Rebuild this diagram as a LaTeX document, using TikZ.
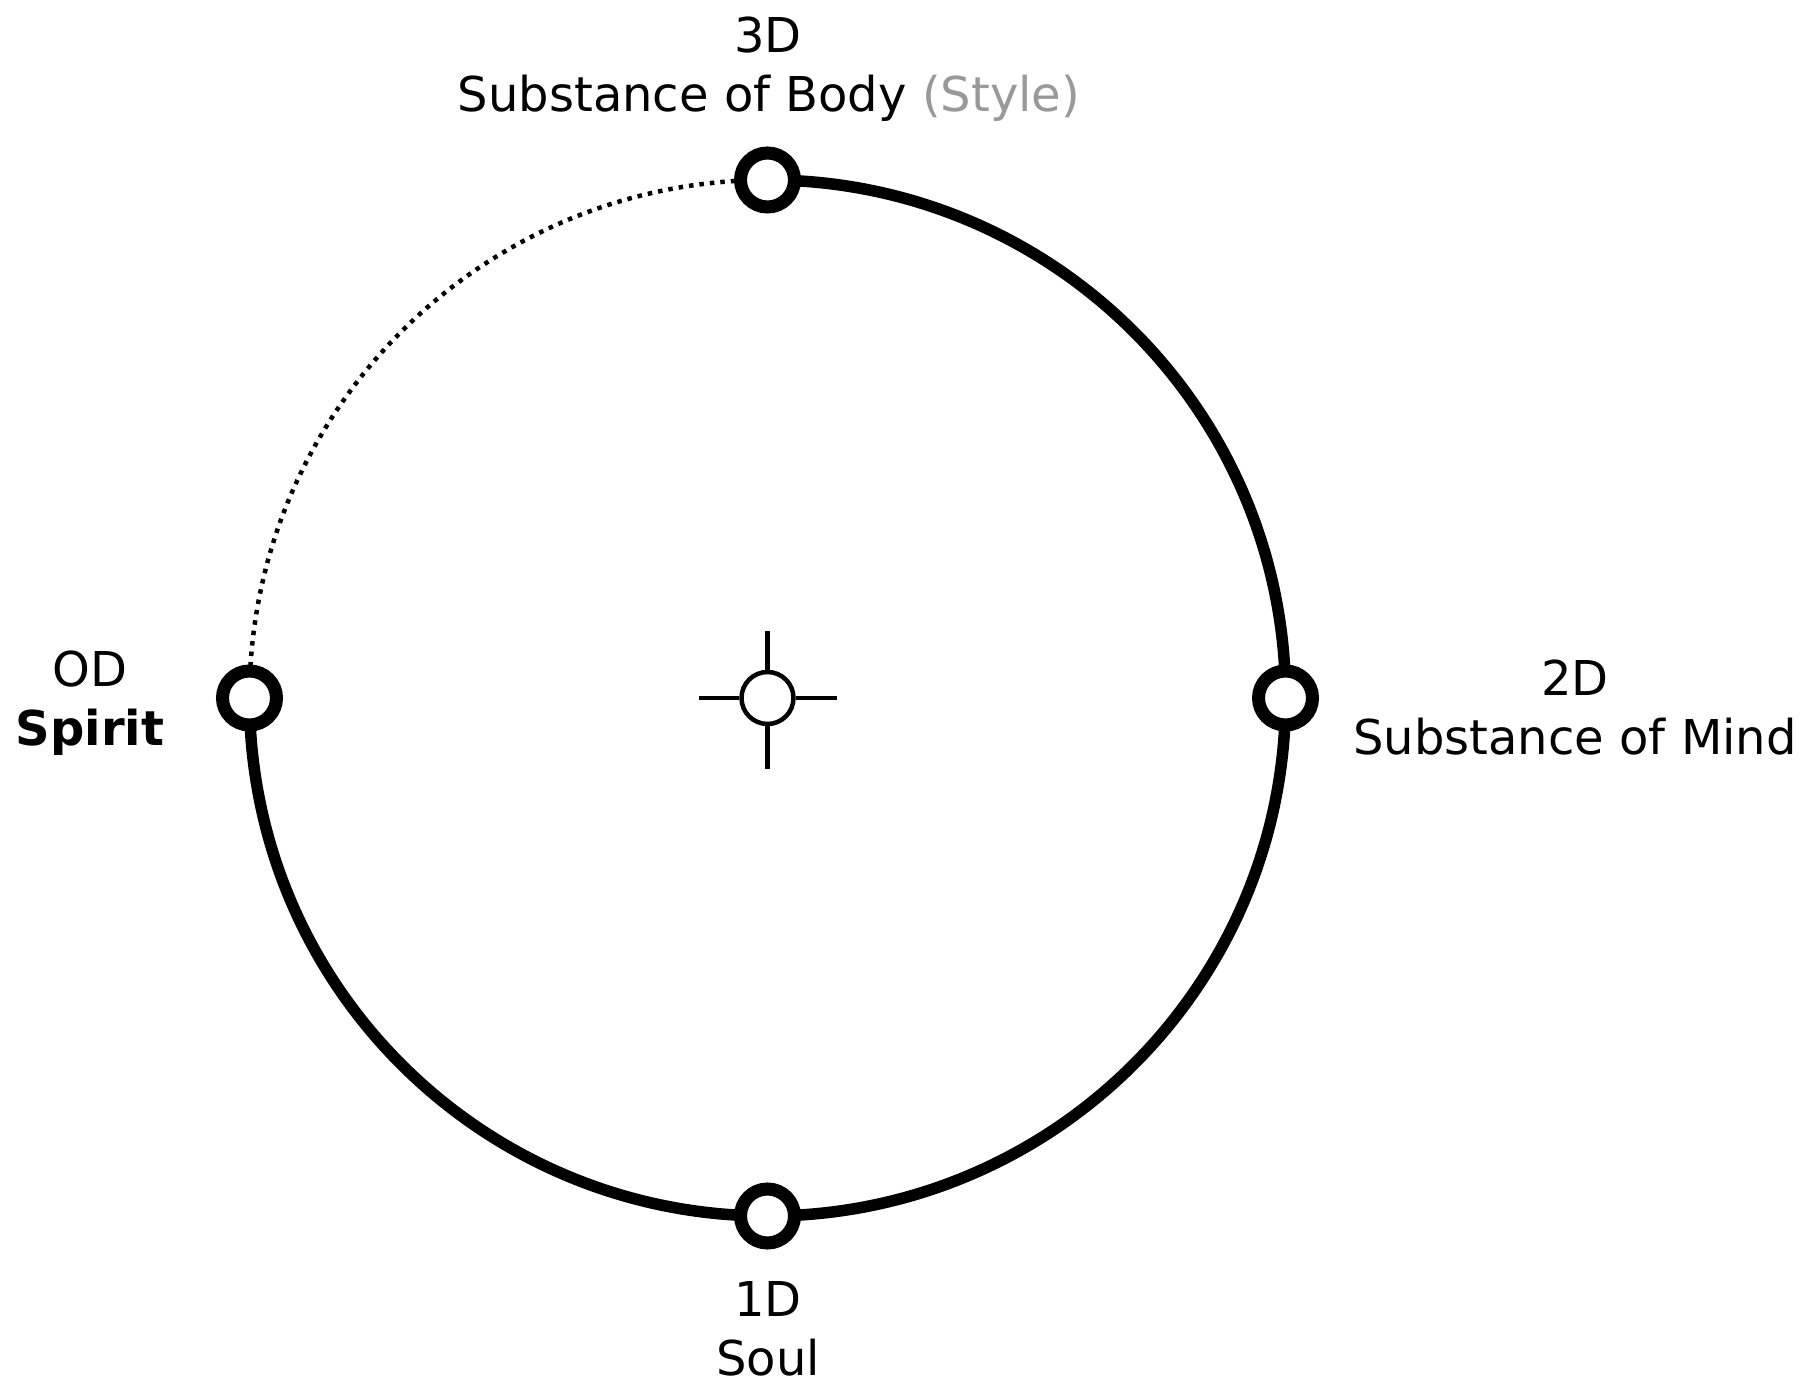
\documentclass[tikz,border=0pt]{standalone}
\usepackage{fontspec}
\setmainfont{DejaVu Sans}
\definecolor{stylegray}{RGB}{153,153,153}
\begin{document}
\begin{tikzpicture}[x=1pt,y=1pt,
  lbl/.style={anchor=base,inner sep=0pt,font=\fontsize{48}{58}\selectfont},
  dimnode/.style={circle,draw=black,fill=white,line width=13pt,minimum size=54pt,inner sep=0pt},
  ring/.style={line width=11.5pt},
  dotring/.style={line width=4.5pt,dash pattern=on 4.5pt off 6pt},
  cross/.style={line width=4.5pt}]
\useasboundingbox (0,0) rectangle (1804,1384);
\coordinate (c) at (767.5,686);
\coordinate (t) at (767.5,1204);
\coordinate (b) at (767.5,168);
\coordinate (l) at (249.5,686);
\coordinate (r) at (1285.5,686);
% arcs
\draw[ring] (t) arc[start angle=90,end angle=-180,radius=518pt];
\draw[dotring] (l) arc[start angle=180,end angle=90,radius=518pt];
% dimension nodes
\node[dimnode] (n3) at (t) {};
\node[dimnode] (n2) at (r) {};
\node[dimnode] (n1) at (b) {};
\node[dimnode] (n0) at (l) {};
% centre crosshair
\node[circle,draw=black,fill=white,line width=4.5pt,minimum size=52pt,inner sep=0pt] (ctr) at (c) {};
\coordinate (cu) at (767.5,753);
\coordinate (cd) at (767.5,615);
\coordinate (cl) at (698.5,686);
\coordinate (cr) at (836.5,686);
\draw[cross] (ctr.north) -- (cu);
\draw[cross] (ctr.south) -- (cd);
\draw[cross] (ctr.west) -- (cl);
\draw[cross] (ctr.east) -- (cr);
% labels
\node[lbl] (t3a) at (768,1331) {3D};
\node[lbl] (t3b) at (769,1272) {Substance of Body \textcolor{stylegray}{(Style)}};
\node[lbl] (t0a) at (90,697) {OD};
\node[lbl] (t0b) at (90,638.5) {\bfseries Spirit};
\node[lbl] (t2a) at (1575,688) {2D};
\node[lbl] (t2b) at (1575,629) {Substance of Mind};
\node[lbl] (t1a) at (768,67) {1D};
\node[lbl] (t1b) at (768,9) {Soul};
\end{tikzpicture}
\end{document}
